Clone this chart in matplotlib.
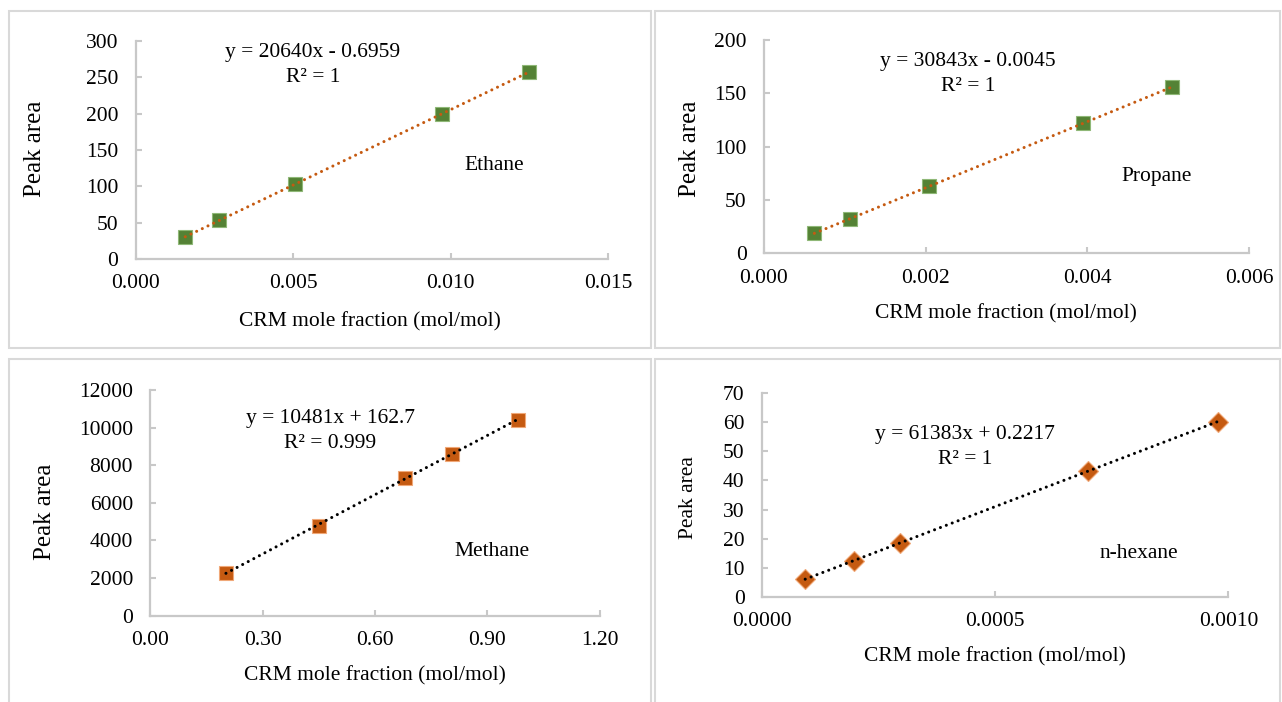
import numpy as np
import matplotlib
matplotlib.use('Agg')
import matplotlib.pyplot as plt
from matplotlib.ticker import FormatStrFormatter
from matplotlib.patches import Rectangle

plt.rcParams['font.family'] = ['Liberation Serif', 'DejaVu Serif']

W, H = 1282, 702

# ---------------- data ----------------
ethane_x = [0.00158, 0.00266, 0.00507, 0.00974, 0.01250]
ethane_y = [30.5, 53.4, 102.7, 200.0, 257.5]
propane_x = [0.000623, 0.001058, 0.002045, 0.003945, 0.005042]
propane_y = [18.8, 31.9, 63.1, 121.9, 155.6]
methane_x = [0.202, 0.4505, 0.680, 0.8046, 0.981]
methane_y = [2286, 4785, 7321, 8597, 10421]
hexane_x = [0.0000926, 0.000198, 0.0002957, 0.000699, 0.000978]
hexane_y = [5.99, 12.39, 18.58, 43.36, 60.2]

names = ['Ethane', 'Propane', 'Methane', 'n-hexane']
equations = ['y = 20640x - 0.6959\nR² = 1',
             'y = 30843x - 0.0045\nR² = 1',
             'y = 10481x + 162.7\nR² = 0.999',
             'y = 61383x + 0.2217\nR² = 1']
x_ticks = [[0.000, 0.005, 0.010, 0.015],
           [0.000, 0.002, 0.004, 0.006],
           [0.00, 0.30, 0.60, 0.90, 1.20],
           [0.0000, 0.0005, 0.0010]]
y_ticks = [[0, 50, 100, 150, 200, 250, 300],
           [0, 50, 100, 150, 200],
           [0, 2000, 4000, 6000, 8000, 10000, 12000],
           [0, 10, 20, 30, 40, 50, 60, 70]]
x_fmt = ['%.3f', '%.3f', '%.2f', '%.4f']
xs = [ethane_x, propane_x, methane_x, hexane_x]
ys = [ethane_y, propane_y, methane_y, hexane_y]

# ---------------- layout (pixels) ----------------
GREEN = '#548235'
ORANGE = '#C55A11'
GRAY = '#c8c8c8'

styles = [
    dict(marker='s', ms=9.4, mfc=GREEN, mec='#8fb877', line=ORANGE),
    dict(marker='s', ms=9.4, mfc=GREEN, mec='#8fb877', line=ORANGE),
    dict(marker='s', ms=9.4, mfc=ORANGE, mec='#f0a878', line='black'),
    dict(marker='D', ms=10.0, mfc=ORANGE, mec='#f0a878', line='black'),
]
# axes boxes: x0, x1, ytop, ybottom in pixels
boxes = [(135.5, 608, 41, 259), (764, 1249, 40, 253.3),
         (150.3, 599.7, 390, 615.7), (762, 1228.4, 393.3, 596.7)]
eq_pos = [(313, 65), (968, 74), (330, 431), (965, 447)]
name_pos = [(494, 166), (1157, 176), (492, 551), (1139, 553)]
xlabel_pos = [(370, 322), (1006, 314), (375, 676), (995, 657)]
ylabel_pos = [(35, 149), (690, 149), (45, 512), (689, 498)]
ylabel_size = [18, 18, 18, 15.5]
panels = [(9, 11, 651, 348), (655, 11, 1280, 348),
          (9, 359, 651, 705), (655, 359, 1280, 705)]

fig = plt.figure(figsize=(W / 100, H / 100), dpi=100)
fig.patch.set_facecolor('white')


def fxy(px, py):
    return px / W, 1 - py / H


for (l, t, r, b) in panels:
    fig.patches.append(Rectangle(fxy(l, b), (r - l) / W, (b - t) / H,
                                 transform=fig.transFigure, fill=False,
                                 edgecolor='#d9d9d9', linewidth=1.5))

for i in range(4):
    x0, x1, yt, yb = boxes[i]
    ax = fig.add_axes([x0 / W, 1 - yb / H, (x1 - x0) / W, (yb - yt) / H])
    st = styles[i]
    x = np.array(xs[i])
    y = np.array(ys[i])
    k, c = np.polyfit(x, y, 1)
    xl = np.array([x.min(), x.max()])
    ax.plot(xl, k * xl + c, color=st['line'], linewidth=2.2,
            dashes=(0.01, 2.05), dash_capstyle='round', zorder=3)
    ax.plot(x, y, linestyle='none', marker=st['marker'], ms=st['ms'],
            mfc=st['mfc'], mec=st['mec'], mew=0.8, zorder=2, clip_on=False)
    ax.set_xlim(x_ticks[i][0], x_ticks[i][-1])
    ax.set_ylim(y_ticks[i][0], y_ticks[i][-1])
    ax.set_xticks(x_ticks[i])
    ax.set_yticks(y_ticks[i])
    ax.xaxis.set_major_formatter(FormatStrFormatter(x_fmt[i]))
    for s in ['top', 'right']:
        ax.spines[s].set_visible(False)
    for s in ['left', 'bottom']:
        ax.spines[s].set_color(GRAY)
        ax.spines[s].set_linewidth(1.6)
    ax.tick_params(axis='both', direction='in', color=GRAY, length=4,
                   width=1.5, labelsize=15.5, labelcolor='black')
    ax.tick_params(axis='x', pad=11)
    ax.tick_params(axis='y', pad=12.5)
    ax.set_facecolor('none')

    fig.text(*fxy(*eq_pos[i]), equations[i], ha='center', va='center',
             fontsize=15.5, linespacing=1.45)
    fig.text(*fxy(*name_pos[i]), names[i], ha='center', va='center',
             fontsize=15.5)
    ax.set_xlabel('CRM mole fraction (mol/mol)', fontsize=15.5, va='center')
    ax.xaxis.set_label_coords(*fxy(*xlabel_pos[i]), transform=fig.transFigure)
    ax.set_ylabel('Peak area', fontsize=ylabel_size[i], va='center')
    ax.yaxis.set_label_coords(*fxy(*ylabel_pos[i]), transform=fig.transFigure)

fig.savefig('out.png', dpi=100, facecolor='white')
